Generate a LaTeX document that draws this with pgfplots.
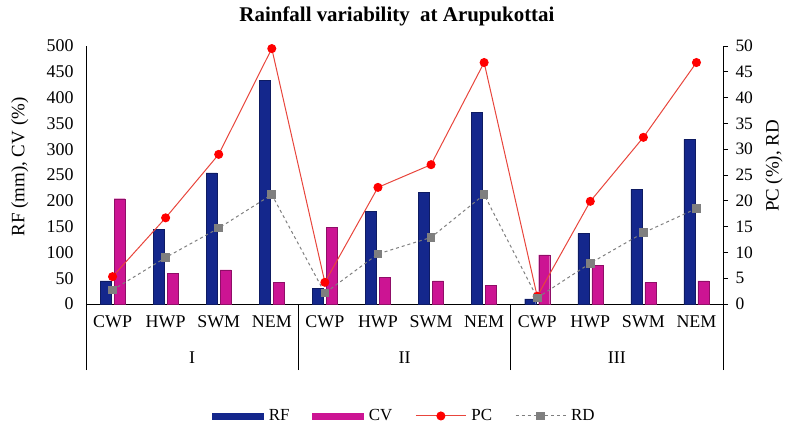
\documentclass[border=0pt]{standalone}
\usepackage{fontspec}
\setmainfont{Liberation Serif}
\usepackage{pgfplots}
\pgfplotsset{compat=1.18}

\definecolor{rfblue}{HTML}{14278C}
\definecolor{cvpink}{HTML}{CC1493}
\definecolor{pcred}{HTML}{E8453C}
\definecolor{rdgray}{HTML}{7F7F7F}

\begin{document}
\begin{tikzpicture}
% left axis: RF and CV bars
\begin{axis}[
    scale only axis, width=637bp, height=258bp,
    xmin=-0.5, xmax=11.5, ymin=0, ymax=500,
    ybar=3bp, bar width=11bp,
    axis x line*=bottom, axis y line*=left,
    axis line style={line width=0.8bp},
    tick style={draw=none},
    xtick={0,...,11},
    xticklabels={CWP,HWP,SWM,NEM,CWP,HWP,SWM,NEM,CWP,HWP,SWM,NEM},
    extra x ticks={-0.5,3.5,7.5,11.5}, extra x tick labels={},
    extra x tick style={tick style={draw=black, line width=0.8bp}, major tick length=66bp, tick align=outside},
    ytick={0,50,...,500},
    /pgf/number format/assume math mode=true,
    yticklabel style={font=\fontsize{18}{18}\selectfont, xshift=-9bp},
    xticklabel style={font=\fontsize{18}{18}\selectfont, yshift=-4bp},
    ylabel={RF (mm), CV (\%)},
    ylabel style={font=\fontsize{19}{19}\selectfont, at={(axis description cs:-0.104,0.531)}, anchor=center},
    clip=false,
]
\addplot[fill=rfblue, draw=rfblue!70!black] coordinates {
    (0,45) (1,145) (2,254) (3,433)
    (4,30) (5,180) (6,216) (7,372)
    (8,10) (9,137) (10,222) (11,319)
};
\addplot[fill=cvpink, draw=cvpink!70!black] coordinates {
    (0,204) (1,59) (2,66) (3,42)
    (4,148) (5,51) (6,45) (7,36)
    (8,95) (9,75) (10,42) (11,45)
};
\node[font=\fontsize{18}{18}\selectfont] at (axis cs:1.5,0) [yshift=-54bp] {I};
\node[font=\fontsize{18}{18}\selectfont] at (axis cs:5.5,0) [yshift=-54bp] {II};
\node[font=\fontsize{18}{18}\selectfont] at (axis cs:9.5,0) [yshift=-54bp] {III};
\end{axis}

% right axis: PC and RD lines
\begin{axis}[
    scale only axis, width=637bp, height=258bp,
    xmin=-0.5, xmax=11.5, ymin=0, ymax=50,
    axis x line=none, axis y line*=right,
    axis line style={line width=0.8bp},
    ytick={0,5,...,50},
    major tick length=5bp, tick align=outside,
    tick style={black, line width=0.8bp},
    /pgf/number format/assume math mode=true,
    yticklabel style={font=\fontsize{17.5}{17.5}\selectfont, xshift=4bp},
    ylabel={PC (\%), RD},
    ylabel style={font=\fontsize{19}{19}\selectfont, at={(axis description cs:1.080,0.535)}, anchor=center},
    legend columns=4,
    legend style={at={(0.5,-0.434)}, anchor=center, draw=none, fill=none,
        font=\fontsize{17}{17}\selectfont,
        /tikz/every even column/.append style={column sep=21bp},
        /tikz/every odd column/.append style={column sep=3bp}},
    legend image code/.code={\draw[mark repeat=2, mark phase=2, #1] plot coordinates {(0bp,0bp) (25bp,0bp) (50bp,0bp)};},
    clip=false,
]
\addlegendimage{legend image code/.code={\fill[rfblue] (0bp,-3bp) rectangle (51bp,3bp);}}
\addlegendentry{RF}
\addlegendimage{legend image code/.code={\fill[cvpink] (0bp,-3bp) rectangle (51bp,3bp);}}
\addlegendentry{CV}
\addplot[pcred, line width=1bp, mark=*, mark size=4bp, mark options={fill=red, draw=red}] coordinates {
    (0,5.3) (1,16.7) (2,29.0) (3,49.5)
    (4,4.2) (5,22.6) (6,27.0) (7,46.8)
    (8,1.5) (9,19.9) (10,32.3) (11,46.8)
};
\addlegendentry{PC}
\addplot[rdgray, dashed, line width=1bp, mark=square*, mark size=3.8bp, mark options={solid, fill=rdgray, draw=rdgray}] coordinates {
    (0,2.7) (1,9.0) (2,14.7) (3,21.2)
    (4,2.1) (5,9.7) (6,12.9) (7,21.2)
    (8,1.2) (9,7.9) (10,13.8) (11,18.5)
};
\addlegendentry{RD}
\end{axis}

\node[font=\bfseries\fontsize{21}{21}\selectfont] at (311bp,288bp) {Rainfall variability\ \ at Arupukottai};

\pgfresetboundingbox
\path[use as bounding box] (-86bp,-122bp) rectangle (699bp,304bp);
\end{tikzpicture}
\end{document}
